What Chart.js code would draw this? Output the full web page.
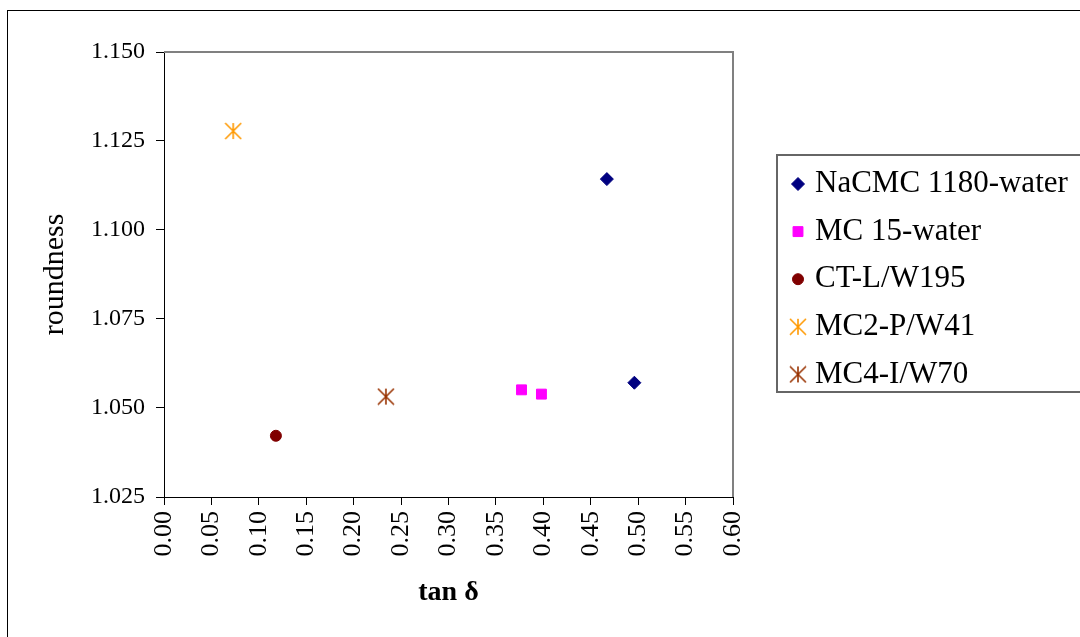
<!DOCTYPE html>
<html>
<head>
<meta charset="utf-8">
<script src="https://cdn.jsdelivr.net/npm/chart.js@4.4.0/dist/chart.umd.min.js"></script>
<style>
  html, body { margin: 0; padding: 0; background: #fff; }
  #wrap { width: 1080px; height: 637px; }
</style>
</head>
<body>
<div id="wrap"><canvas id="roundnessChart"></canvas></div>
<script>
// roundness against tan delta, one series per sample
const seriesNames = ['NaCMC 1180-water', 'MC 15-water', 'CT-L/W195', 'MC2-P/W41', 'MC4-I/W70'];
const tanDelta = [[0.467, 0.496], [0.377, 0.398], [0.118], [0.073], [0.234]];
const roundness = [[1.1143, 1.0571], [1.0551, 1.0539], [1.0422], [1.1278], [1.0532]];
const seriesColors = ['#000080', '#FF00FF', '#800000', '#FF9900', '#993300'];

const serif = "'Liberation Serif', 'Times New Roman', serif";

// asterisk marker: vertical bar plus an X
function asterisk(color, size) {
    const c = document.createElement('canvas');
    c.width = size;
    c.height = size;
    const g = c.getContext('2d');
    g.strokeStyle = color;
    g.lineWidth = 1.6;
    const m = size / 2, e = size - 1;
    g.beginPath();
    g.moveTo(m, 1); g.lineTo(m, e);
    g.moveTo(1, 1); g.lineTo(e, e);
    g.moveTo(e, 1); g.lineTo(1, e);
    g.stroke();
    return c;
}

const pointStyles = ['rectRot', 'rect', 'circle', asterisk(seriesColors[3], 18), asterisk(seriesColors[4], 18)];
const pointSizes = [6.5, 7, 5.5, 9, 9];

const datasets = seriesNames.map((name, i) => ({
    label: name,
    data: tanDelta[i].map((x, j) => ({ x: x, y: roundness[i][j] })),
    pointStyle: pointStyles[i],
    pointRadius: pointSizes[i],
    pointBackgroundColor: seriesColors[i],
    pointBorderColor: seriesColors[i],
    pointBorderWidth: 1,
    showLine: false,
}));

// white page, outer frame and grey top/right edges of the plot
const frame = {
    id: 'frame',
    beforeDraw(chart) {
        const ctx = chart.ctx;
        ctx.save();
        ctx.fillStyle = '#fff';
        ctx.fillRect(0, 0, chart.width, chart.height);
        ctx.strokeStyle = '#000';
        ctx.lineWidth = 1;
        ctx.strokeRect(7.5, 10.5, chart.width, chart.height);
        ctx.restore();
    },
    afterDraw(chart) {
        const a = chart.chartArea;
        const ctx = chart.ctx;
        ctx.save();
        ctx.strokeStyle = '#808080';
        ctx.lineWidth = 2;
        ctx.beginPath();
        ctx.moveTo(a.left, a.top);
        ctx.lineTo(a.right, a.top);
        ctx.lineTo(a.right, a.bottom);
        ctx.stroke();
        ctx.restore();
    }
};

// boxed legend to the right of the plot
const legendBox = {
    id: 'legendBox',
    afterDraw(chart) {
        const a = chart.chartArea;
        const ctx = chart.ctx;
        const left = a.right + 44, top = 155;
        ctx.save();
        ctx.strokeStyle = '#666';
        ctx.lineWidth = 2;
        ctx.strokeRect(left, top, 400, 237);
        ctx.font = '31px ' + serif;
        ctx.fillStyle = '#000';
        ctx.textBaseline = 'middle';
        chart.data.datasets.forEach((ds, i) => {
            const y = top + 29 + i * 47.6;
            ctx.fillStyle = ds.pointBackgroundColor;
            ctx.strokeStyle = ds.pointBorderColor;
            ctx.lineWidth = 1;
            Chart.helpers.drawPoint(ctx, { pointStyle: ds.pointStyle, radius: ds.pointRadius, rotation: 0, borderWidth: 1 }, left + 21, y);
            ctx.fillStyle = '#000';
            ctx.fillText(ds.label, left + 38, y);
        });
        ctx.restore();
    }
};

new Chart(document.getElementById('roundnessChart'), {
    type: 'scatter',
    data: { datasets: datasets },
    options: {
        responsive: true,
        maintainAspectRatio: false,
        animation: false,
        layout: { padding: { left: 37, top: 52, right: 347, bottom: 27 } },
        plugins: {
            legend: { display: false },
            tooltip: { enabled: false },
        },
        scales: {
            x: {
                type: 'linear',
                min: 0,
                max: 0.6,
                ticks: {
                    stepSize: 0.05,
                    minRotation: 90,
                    maxRotation: 90,
                    padding: 6,
                    color: '#000',
                    font: { family: serif, size: 26 },
                    callback: v => v.toFixed(2),
                },
                grid: { drawOnChartArea: false, tickLength: 8, color: '#000' },
                border: { color: '#000', width: 1 },
                title: {
                    display: true,
                    text: 'tan δ',
                    color: '#000',
                    padding: 0,
                    font: { family: serif, size: 28, weight: 'bold' },
                },
                afterFit: s => { s.height = 113; },
            },
            y: {
                type: 'linear',
                min: 1.025,
                max: 1.15,
                ticks: {
                    stepSize: 0.025,
                    padding: 11,
                    color: '#000',
                    font: { family: serif, size: 24 },
                    callback: v => v.toFixed(3),
                },
                grid: { drawOnChartArea: false, tickLength: 8, color: '#000' },
                border: { color: '#000', width: 1 },
                title: {
                    display: true,
                    text: 'roundness',
                    color: '#000',
                    padding: 0,
                    font: { family: serif, size: 30 },
                },
                afterFit: s => { s.width = 127; },
            },
        },
    },
    plugins: [frame, legendBox],
});
</script>
</body>
</html>
